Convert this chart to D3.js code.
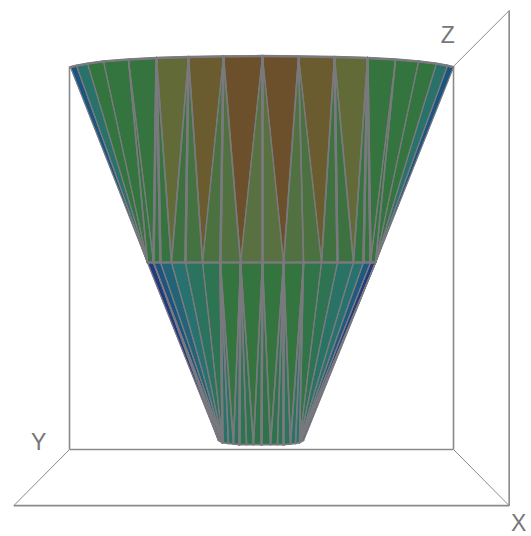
<!DOCTYPE html>
<html><head><meta charset="utf-8">
<script src="https://cdn.jsdelivr.net/npm/d3@7"></script>
<style>html,body{margin:0;padding:0;background:#fff}svg{display:block}</style>
</head><body><div id="chart"></div>
<script>
// Ring coordinates (u: horizontal, z: height)
const topU = [-.995,-.964,-.906,-.823,-.693,-.547,-.38,-.198,.005,.193,.38,.552,.698,.818,.911,.969,1];
const topZ = [1.001,1.005,1.01,1.016,1.021,1.025,1.0275,1.029,1.03,1.029,1.0275,1.025,1.021,1.016,1.01,1.005,1.001];
const midU = [-.594,-.5625,-.526,-.469,-.396,-.307,-.214,-.109,.005,.115,.219,.3125,.396,.479,.531,.568,.594];
const midZ = [.4895,.4895,.4895,.4895,.4895,.4895,.4895,.4895,.4895,.4895,.4895,.4895,.4895,.4895,.4895,.4895,.4895];
const botU = [-.224,-.214,-.203,-.172,-.146,-.115,-.078,-.042,0,.047,.083,.115,.151,.177,.198,.208,.219];
const botZ = [.0236,.021,.018,.0157,.0144,.013,.013,.013,.013,.013,.013,.013,.0144,.0157,.018,.021,.0236];

// Triangles: vertex ids (ring letter + index)
const upperFaces = ["t0 t1 m0","t1 t2 m0","t2 t3 m0","t3 t4 m0","m0 m1 t4","t4 t5 m1","m1 m2 t5","m2 m3 t5","t5 t6 m3","m3 m4 t6","m4 m5 t6","t6 t7 m5","m5 m6 t7","m6 m7 t7","t7 t8 m7","m7 m8 t8","m8 m9 t8","t8 t9 m9","m9 m10 t9","m10 m11 t9","t9 t10 m11","m11 m12 t10","m12 m13 t10","t10 t11 m13","m13 m14 t11","m14 m15 t11","t11 t12 m15","m15 m16 t12","t12 t13 m16","t13 t14 m16","t14 t15 m16","t15 t16 m16"];
const upperLevels = [1,2.2,4,4,4,4.2,4.2,4.3,8,4.8,5.3,9,5.8,6.2,10,6.8,6.8,10,6.2,5.8,9,5,4.8,8,4.3,4.2,4.2,4,4,4,2.2,1];
const lowerFaces = ["m0 b0 m1","b0 b1 m1","b1 b2 m1","m1 m2 b2","m2 m3 b2","m3 m4 b2","m4 m5 b2","m5 m6 b2","b2 b3 m6","b3 b4 m6","m6 m7 b4","b4 b5 m7","b5 b6 m7","b6 b7 m7","m7 m8 b7","b7 b8 m8","b8 b9 m8","m8 m9 b9","b9 b10 m9","b10 b11 m9","b11 b12 m9","m9 m10 b12","b12 b13 m10","b13 b14 m10","m10 m11 b14","m11 m12 b14","m12 m13 b14","m13 m14 b14","m14 m15 b14","m15 m16 b14","b14 b15 m16","b15 b16 m16"];
const lowerLevels = [0,.5,1,1,1.5,2,2.6,3,2.2,2.4,4,2.7,3,3.2,4,3.4,3.4,4,3.2,3,2.7,4,2.4,2.2,3.6,3,2.3,2,1.2,0,.5,.5];

// Colour ramp
const rampLevels = [0,1,2,3,4,5,6,7,8,9,10];
const rampColors = ["#233a7e","#1c5480","#27726f","#2e7352","#33743f","#3f7240","#4f7140","#5b7040","#626a38","#6b5c2f","#6c4f2b"];

// Frame lines, as [u,z] pairs in the same units
const frameSegments = [
  [[-1,1.003],[-1,0]],[[1,1.003],[1,0]],[[-1,0],[1,0]],
  [[-1,0],[-1.29,-.147]],[[1,0],[1.29,-.147]],[[-1.29,-.147],[1.29,-.147]],
  [[1.29,-.147],[1.29,1.149]],[[1,1.003],[1.29,1.149]]
];
const axisLabels = ["X","Y","Z"];
const axisLabelU = [1.34,-1.16,.97];
const axisLabelZ = [-.2135,-.001,1.065];

const W=531,H=536;
const sx=d3.scaleLinear().domain([-1,1]).range([69.5,453.5]);
const sy=d3.scaleLinear().domain([0,1]).range([449.5,67.5]);
const color=d3.scaleLinear().domain(rampLevels).range(rampColors);
const rings={t:[topU,topZ],m:[midU,midZ],b:[botU,botZ]};
const pt=id=>{const r=rings[id[0]],i=+id.slice(1);return [sx(r[0][i]),sy(r[1][i])];};
const line=d3.line();

const svg=d3.select("#chart").append("svg").attr("width",W).attr("height",H);
svg.append("g").selectAll("path").data(frameSegments).join("path")
  .attr("d",d=>line(d.map(p=>[sx(p[0]),sy(p[1])])))
  .attr("fill","none").attr("stroke","#8a8a8a").attr("stroke-width",d=>(d[0][0]!==d[1][0]&&d[0][1]!==d[1][1])?1:1.6);

const faces=upperFaces.map((f,i)=>({f,l:upperLevels[i]})).concat(lowerFaces.map((f,i)=>({f,l:lowerLevels[i]})));
svg.append("g").selectAll("path").data(faces).join("path")
  .attr("d",d=>line(d.f.split(" ").map(pt))+"Z")
  .attr("fill",d=>color(d.l)).attr("stroke",d=>color(d.l)).attr("stroke-width",.5);

// Edges: the steepest ones read heavier in the reference
const edges=faces.flatMap(d=>{const v=d.f.split(" ").map(pt);return [[v[0],v[1]],[v[1],v[2]],[v[2],v[0]]];});
svg.append("g").selectAll("path").data(edges).join("path")
  .attr("d",d=>line(d)).attr("fill","none").attr("stroke","#7a7a7e").attr("stroke-linecap","round")
  .attr("stroke-width",d=>{const dx=Math.abs(d[0][0]-d[1][0]),dy=Math.abs(d[0][1]-d[1][1]);return dy<20?1.7:(dx/dy<.02?2.4:(dx/dy<.1?1.5:1.2));});

// Heavier top rim and mid ring, as in the reference
svg.append("path").attr("d",line(topU.map((u,i)=>[sx(u),sy(topZ[i])])))
  .attr("fill","none").attr("stroke","#7a7a7e").attr("stroke-width",2.4);
svg.append("path").attr("d",line(midU.map((u,i)=>[sx(u),sy(midZ[i])])))
  .attr("fill","none").attr("stroke","#7a7a7e").attr("stroke-width",2.2);

svg.append("g").selectAll("text").data(axisLabels).join("text")
  .attr("x",(d,i)=>sx(axisLabelU[i])).attr("y",(d,i)=>sy(axisLabelZ[i]))
  .attr("text-anchor","middle").attr("font-family","Liberation Sans, sans-serif").attr("font-size",23)
  .attr("fill","#777").text(d=>d);
</script></body></html>
